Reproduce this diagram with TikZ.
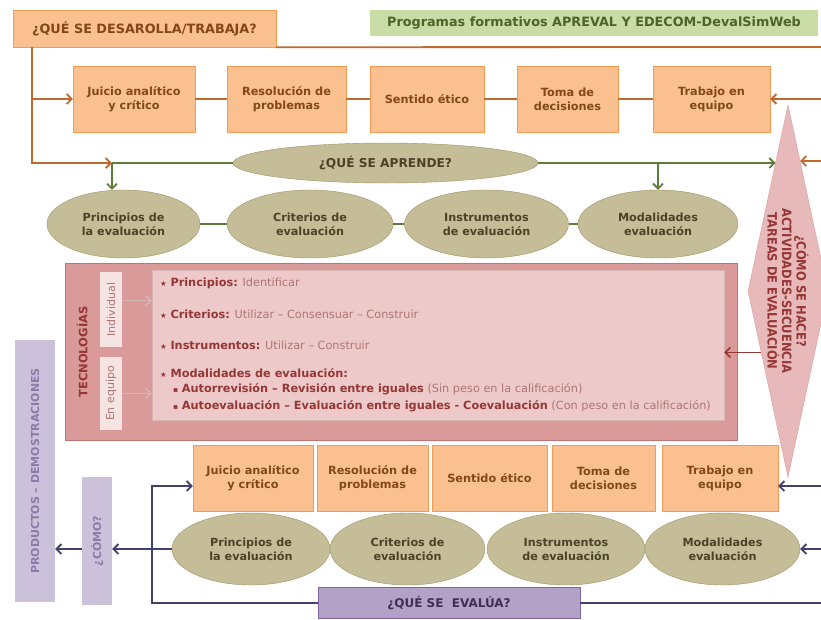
\documentclass[tikz,border=0pt]{standalone}
\usepackage{fontspec}
\setmainfont{DejaVu Sans}
\newfontfamily\estrecha{DejaVu Sans Condensed}
\usetikzlibrary{shapes.geometric,arrows.meta,calc}

\definecolor{naranja}{HTML}{FAC08F}
\definecolor{naranjaborde}{HTML}{F39A55}
\definecolor{naranjalinea}{HTML}{BF6A2C}
\definecolor{marron}{HTML}{84461A}
\definecolor{verdecaja}{HTML}{C9DCA6}
\definecolor{verdetexto}{HTML}{4F6228}
\definecolor{verdelinea}{HTML}{5E7D3B}
\definecolor{oliva}{HTML}{C4BD97}
\definecolor{olivaborde}{HTML}{9C9263}
\definecolor{olivatexto}{HTML}{4A4326}
\definecolor{rosafuera}{HTML}{D99A99}
\definecolor{rosaborde}{HTML}{C27472}
\definecolor{rosadentro}{HTML}{EDC9C9}
\definecolor{rosapalido}{HTML}{F6E4E3}
\definecolor{rosarombo}{HTML}{E8B9BA}
\definecolor{granate}{HTML}{953735}
\definecolor{granateclaro}{HTML}{AD7674}
\definecolor{grisrosa}{HTML}{D6B6B5}
\definecolor{lila}{HTML}{CCC1DA}
\definecolor{lilatexto}{HTML}{8C7BAA}
\definecolor{lilaoscuro}{HTML}{B3A2C7}
\definecolor{lilaborde}{HTML}{8064A2}
\definecolor{lilanegro}{HTML}{3F3151}
\definecolor{azul}{HTML}{414170}

\newcommand\destaca[1]{\textcolor{granate}{\bfseries #1}}
\newcommand\estrella{{\color{granate}\fontsize{7.5}{8}\selectfont ★}}
\newcommand\cuadrito{{\color{granate}\fontsize{7.5}{8}\selectfont ▪}}

\begin{document}
\begin{tikzpicture}[x=1pt,y=-1pt,
    titulo/.style={draw=naranjaborde,fill=naranja,text=marron,minimum width=263pt,minimum height=37pt,font=\fontsize{12.8}{15}\selectfont\bfseries},
    programa/.style={fill=verdecaja,text=verdetexto,minimum width=448pt,minimum height=26pt,font=\fontsize{12.8}{15}\selectfont\bfseries},
    competencia/.style={draw=naranjaborde,fill=naranja,text=marron,align=center,inner sep=2pt,minimum height=66pt,font=\fontsize{11.3}{14}\selectfont\bfseries},
    contenido/.style={ellipse,draw=olivaborde,fill=oliva,text=olivatexto,align=center,inner sep=0pt,font=\fontsize{11.2}{14}\selectfont\bfseries},
    rombo/.style={diamond,draw=rosafuera,fill=rosarombo,inner sep=0pt,minimum width=80pt,minimum height=372pt},
    rombotexto/.style={rotate=-90,align=center,text=granate,font=\estrecha\fontsize{12.8}{14.5}\selectfont\bfseries},
    tecfuera/.style={draw=rosaborde,fill=rosafuera,minimum width=672pt,minimum height=177pt},
    tecdentro/.style={draw=grisrosa,fill=rosadentro,minimum width=572pt,minimum height=150pt},
    modo/.style={rotate=90,fill=rosapalido,text=granateclaro,inner sep=0pt,minimum height=22pt,font=\fontsize{11}{12}\selectfont},
    punto/.style={anchor=west,inner sep=0pt,text=granateclaro,font=\fontsize{11.3}{13}\selectfont},
    lateral/.style={rotate=90,fill=lila,text=lilatexto,inner sep=0pt,font=\fontsize{11}{13}\selectfont\bfseries},
    evaluacion/.style={draw=lilaborde,fill=lilaoscuro,text=lilanegro,minimum width=262pt,minimum height=31pt,font=\fontsize{12}{14}\selectfont\bfseries},
    lineanaranja/.style={draw=naranjalinea,line width=1.8pt},
    flechanaranja/.style={lineanaranja,-{Straight Barb[length=5pt,width=10pt]}},
    lineaverde/.style={draw=verdelinea,line width=1.8pt},
    flechaverde/.style={lineaverde,-{Straight Barb[length=5pt,width=10pt]}},
    lineaazul/.style={draw=azul,line width=1.8pt},
    flechaazul/.style={lineaazul,-{Straight Barb[length=5pt,width=10pt]}},
    flechagranate/.style={draw=granate,line width=1.6pt,-{Straight Barb[length=5pt,width=10pt]}},
    flechagris/.style={draw=grisrosa,line width=1.6pt,-{Straight Barb[length=5pt,width=10pt]}}]
  \useasboundingbox (0,0) rectangle (821,619);

  % cabecera
  \node[titulo] (desarrolla) at (144.5,28.5) {¿QUÉ SE DESAROLLA/TRABAJA?};
  \node[programa] (programa) at (594,23) {Programas formativos APREVAL Y EDECOM-DevalSimWeb};

  % competencias (arriba)
  \node[competencia,minimum width=122pt] (juicioA) at (134,99) {Juicio analítico\\y crítico};
  \node[competencia,minimum width=119pt] (resolA) at (286.5,99) {Resolución de\\problemas};
  \node[competencia,minimum width=114pt] (eticoA) at (427,99) {Sentido ético};
  \node[competencia,minimum width=101pt] (tomaA) at (567.5,99) {Toma de\\decisiones};
  \node[competencia,minimum width=117pt] (equipoA) at (711.5,99) {Trabajo en\\equipo};

  % contenidos (arriba)
  \node[contenido,minimum width=305pt,minimum height=40pt,font=\fontsize{12.2}{14}\selectfont\bfseries] (aprende) at (385.5,163) {¿QUÉ SE APRENDE?};
  \node[contenido,minimum width=153pt,minimum height=68pt] (principiosA) at (123.5,224) {Principios de\\la evaluación};
  \node[contenido,minimum width=166pt,minimum height=68pt] (criteriosA) at (310,224) {Criterios de\\evaluación};
  \node[contenido,minimum width=164pt,minimum height=68pt] (instrumentosA) at (486.5,224) {Instrumentos\\de evaluación};
  \node[contenido,minimum width=160pt,minimum height=68pt] (modalidadesA) at (658,224) {Modalidades\\evaluación};

  % como se hace
  \node[rombo,label={[rombotexto]center:¿CÓMO SE HACE?\\ACTIVIDADES-SECUENCIA\\TAREAS DE EVALUACIÓN}] (hace) at (788,291) {};
  \path (hace.north) -- (hace.west) coordinate[pos=0.31] (entradaverde);
  \path (hace.north) -- (hace.east) coordinate[pos=0.3] (entradanaranja);
  \path (hace.west) -- (hace.south) coordinate[pos=0.33] (haceflecha);

  % tecnologias
  \node[tecfuera] (tec) at (401,351.5) {};
  \node[tecdentro] (tecin) at (438,345) {};
  \node[rotate=90,text=granate,font=\fontsize{11.5}{13}\selectfont\bfseries] (tectitulo) at (82,352) {TECNOLOGÍAS};
  \node[modo,minimum width=75pt] (individual) at (111,309.5) {Individual};
  \node[modo,minimum width=73pt] (enequipo) at (111,393.5) {En equipo};
  \node[punto] (lprincipios) at (160,283) {\estrella\ \destaca{Principios:} Identificar};
  \node[punto] (lcriterios) at (160,314) {\estrella\ \destaca{Criterios:} Utilizar – Consensuar – Construir};
  \node[punto] (linstrumentos) at (160,345) {\estrella\ \destaca{Instrumentos:} Utilizar – Construir};
  \node[punto] (lmodalidades) at (160,373) {\estrella\ \destaca{Modalidades de evaluación:}};
  \node[punto] (lrevision) at (173,389) {\cuadrito\ \destaca{Autorrevisión – Revisión entre iguales} (Sin peso en la calificación)};
  \node[punto] (lcoeval) at (173,406) {\cuadrito\ \destaca{Autoevaluación – Evaluación entre iguales - Coevaluación} (Con peso en la calificación)};

  % competencias (abajo)
  \node[competencia,minimum width=120pt] (juicioB) at (253,478) {Juicio analítico\\y crítico};
  \node[competencia,minimum width=111pt] (resolB) at (372.5,478) {Resolución de\\problemas};
  \node[competencia,minimum width=115pt] (eticoB) at (489.5,478) {Sentido ético};
  \node[competencia,minimum width=103pt] (tomaB) at (603.5,478) {Toma de\\decisiones};
  \node[competencia,minimum width=116pt] (equipoB) at (720,478) {Trabajo en\\equipo};

  % contenidos (abajo)
  \node[contenido,minimum width=158pt,minimum height=72pt] (principiosB) at (251,549) {Principios de\\la evaluación};
  \node[contenido,minimum width=155pt,minimum height=72pt] (criteriosB) at (407.5,549) {Criterios de\\evaluación};
  \node[contenido,minimum width=158pt,minimum height=72pt] (instrumentosB) at (566,549) {Instrumentos\\de evaluación};
  \node[contenido,minimum width=155pt,minimum height=72pt] (modalidadesB) at (722.5,549) {Modalidades\\evaluación};

  \node[evaluacion] (evalua) at (449,603) {¿QUÉ SE \ EVALÚA?};
  \node[lateral,minimum width=128pt,minimum height=30pt] (como) at (97,541) {¿CÓMO?};
  \node[lateral,minimum width=262pt,minimum height=40pt] (productos) at (35,471) {PRODUCTOS – DEMOSTRACIONES};

  % conexiones naranja
  \coordinate (bajada) at (32,163);
  \coordinate (reparto) at (112,163);
  \coordinate (bordeA) at (821,47);
  \coordinate (bordeB) at (821,99);
  \coordinate (bordeC) at (821,161);
  \draw[lineanaranja] (desarrolla.south east) -- (bordeA);
  \draw[flechanaranja] (desarrolla.south -| bajada) -- (bajada) -- (reparto);
  \draw[flechanaranja] (bajada |- juicioA.west) -- (juicioA.west);
  \draw[flechanaranja] (bordeB) -- (equipoA.east);
  \draw[flechanaranja] (bordeC) -- (bordeC -| entradanaranja);
  \foreach \a/\b in {juicioA/resolA,resolA/eticoA,eticoA/tomaA,tomaA/equipoA}
    \draw[lineanaranja] (\a) -- (\b);

  % conexiones verde
  \draw[lineaverde] (reparto) -- (aprende.west);
  \draw[flechaverde] (reparto) -- (reparto |- principiosA.north);
  \draw[flechaverde] (aprende.east) -- (aprende.east -| entradaverde);
  \draw[flechaverde] (aprende.east -| modalidadesA.north) -- (modalidadesA.north);
  \foreach \a/\b in {principiosA/criteriosA,criteriosA/instrumentosA,instrumentosA/modalidadesA}
    \draw[lineaverde] (\a) -- (\b);

  % tecnologias
  \draw[flechagranate] (haceflecha) -- (haceflecha -| tecin.east);
  \draw[flechagris] ([yshift=9pt]individual.south) -- ([yshift=9pt]individual.south -| tecin.west);
  \draw[flechagris] (enequipo.south) -- (enequipo.south -| tecin.west);

  % conexiones azul
  \coordinate (vuelta) at (152,486);
  \coordinate (bordeD) at (821,486);
  \coordinate (bordeE) at (821,549);
  \coordinate (bordeF) at (821,603);
  \draw[flechaazul] (evalua.west) -| (vuelta) -- (vuelta -| juicioB.west);
  \draw[lineaazul] (evalua.east) -- (bordeF);
  \draw[flechaazul] (bordeD) -- (bordeD -| equipoB.east);
  \draw[flechaazul] (bordeE) -- (modalidadesB.east);
  \draw[flechaazul,{Straight Barb[length=5pt,width=10pt]}-] (como.south |- principiosB.west) -- (principiosB.west);
  \draw[flechaazul] (como.north |- principiosB.west) -- (productos.south |- principiosB.west);
\end{tikzpicture}
\end{document}
